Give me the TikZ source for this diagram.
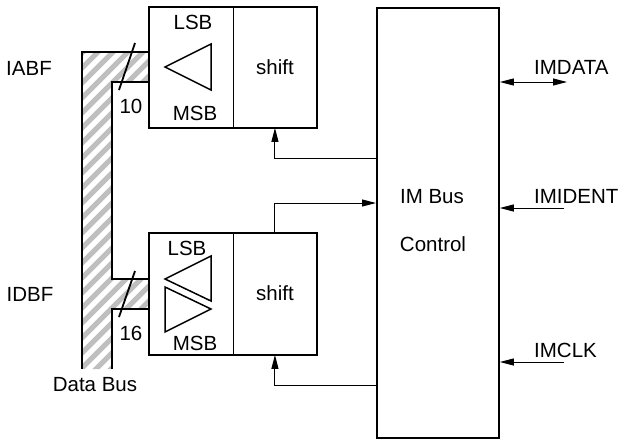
\documentclass[tikz,border=0pt]{standalone}
\usepackage{fontspec}
\setmainfont{Liberation Sans}
\usetikzlibrary{arrows.meta}
\begin{document}
\begin{tikzpicture}[x=1pt,y=-1pt,
  every node/.style={font=\fontsize{20.5}{24}\selectfont, inner sep=0pt},
  blk/.style={draw, line width=1.8pt, anchor=north west},
  half/.style={draw, line width=0.9pt, anchor=north west},
  thick/.style={line width=1.8pt},
  conn/.style={line width=1pt, -{Triangle[length=14pt,width=7pt]}},
  bconn/.style={line width=1pt, {Triangle[length=14pt,width=7pt]}-{Triangle[length=14pt,width=7pt]}},
  tri/.style={line width=1.5pt, line join=miter},
  hatchcol/.style={draw=black!25, line width=5pt}
]
\useasboundingbox (0,0) rectangle (620,439);
% hatched data bus
\begin{scope}
  \clip (82,52) -- (149,52) -- (149,82) -- (112,82) -- (112,279) -- (149,279) -- (149,309) -- (112,309) -- (112,369) -- (82,369) -- cycle;
  \foreach \c in {0,15,...,660} { \draw[hatchcol] (60,\c) -- (260,\c-200); }
\end{scope}
\draw[thick] (82,369) -- (82,52) -- (149,52);
\draw[thick] (149,82) -- (112,82) -- (112,279) -- (149,279);
\draw[thick] (149,309) -- (112,309) -- (112,369);
% slashes
\draw[thick] (135,43) -- (119,90);
\draw[thick] (135,271) -- (119,317);
% boxes
\node[half, minimum width=84pt, minimum height=120pt] (lsbA) at (149,7) {};
\node[half, minimum width=83pt, minimum height=120pt] (shiftA) at (233,7) {};
\node[half, minimum width=84pt, minimum height=121pt] (lsbB) at (149,233) {};
\node[half, minimum width=83pt, minimum height=121pt] (shiftB) at (233,233) {};
\draw[thick] (lsbA.north west) rectangle (shiftA.south east);
\draw[thick] (lsbB.north west) rectangle (shiftB.south east);
\node[blk, minimum width=122pt, minimum height=430pt] (im) at (376,7) {};
% triangles
\draw[tri] (165,67) -- (211,44) -- (211,90) -- cycle;
\draw[tri] (165,279) -- (211,256) -- (211,301) -- cycle;
\draw[tri] (165,287) -- (165,332) -- (211,309) -- cycle;
% texts
\node (lsbtA) at (193,22) {LSB};
\node (msbtA) at (195,113) {MSB};
\node (lsbtB) at (187,248) {LSB};
\node (msbtB) at (195,343) {MSB};
\node (shtA) at (275,67) {shift};
\node (shtB) at (275,293) {shift};
\node (imbus) at (432,197) {IM Bus};
\node (ctrl) at (433,244) {Control};
\node (iabf) at (29,68) {IABF};
\node (idbf) at (30,294) {IDBF};
\node (dbus) at (95,385) {Data Bus};
\node (ten) at (131,106) {10};
\node (sixteen) at (131,333) {16};
\node[anchor=west] (imdata) at (534,67) {IMDATA};
\node[anchor=west] (imident) at (534,196) {IMIDENT};
\node[anchor=west] (imclk) at (534,350) {IMCLK};
% connectors
\coordinate (dEnd) at (567,82);
\coordinate (iEnd) at (564,208);
\coordinate (cEnd) at (564,362);
\coordinate (ra) at (376,158);
\coordinate (rb) at (376,203);
\coordinate (rc) at (376,385);
\draw[conn] (ra) -| (shiftA.south);
\draw[conn] (shiftB.north) |- (rb);
\draw[conn] (rc) -| (shiftB.south);
\draw[bconn] (im.east |- dEnd) -- (dEnd);
\draw[conn] (iEnd) -- (im.east |- iEnd);
\draw[conn] (cEnd) -- (im.east |- cEnd);
\end{tikzpicture}
\end{document}
